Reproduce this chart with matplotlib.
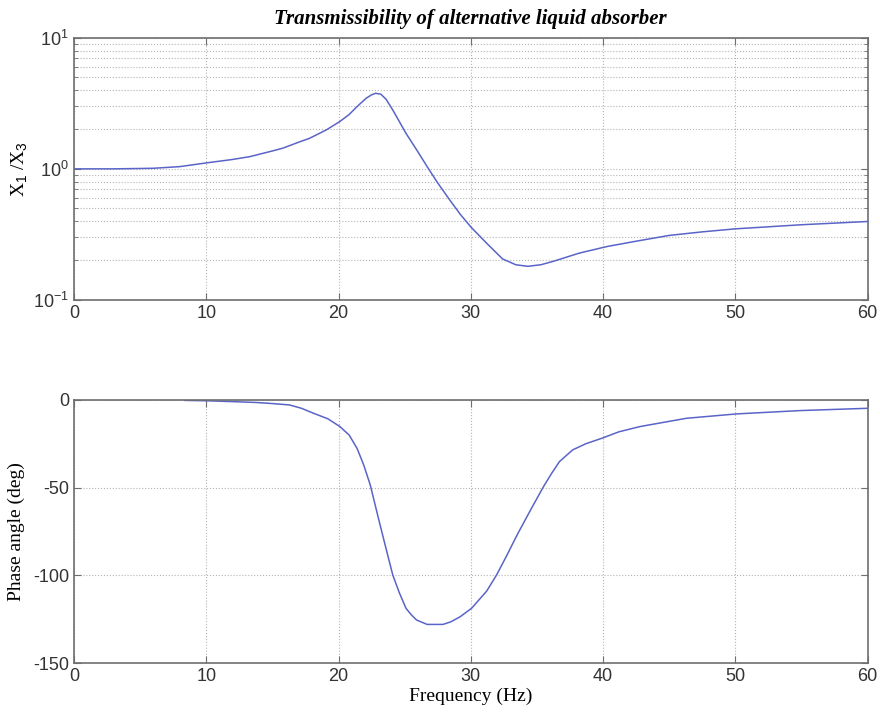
import numpy as np
import matplotlib
matplotlib.use('Agg')
import matplotlib.pyplot as plt
from matplotlib import ticker

# magnitude ratio
freq_mag = [0, 3, 6, 8, 10, 12, 13.3, 15, 15.8, 17, 17.8, 19.1, 20.1, 20.8, 21.4, 22.1,
            22.5, 22.8, 23.2, 23.6, 24.1, 25.1, 26, 26.7, 27.5, 28.4, 29.2, 30, 31.2,
            32.4, 33.4, 34.3, 35.3, 36.2, 38.2, 40.3, 42.5, 45, 47.5, 50, 55, 60]
mag = [1.0, 1.0, 1.01, 1.04, 1.11, 1.18, 1.24, 1.37, 1.44, 1.6, 1.71, 1.99, 2.3, 2.6,
       2.99, 3.47, 3.68, 3.78, 3.72, 3.4, 2.82, 1.87, 1.35, 1.04, 0.78, 0.58, 0.45, 0.36,
       0.27, 0.205, 0.185, 0.18, 0.185, 0.196, 0.227, 0.255, 0.28, 0.31, 0.33, 0.348,
       0.374, 0.396]

# phase angle (deg)
freq_ph = [8.4, 10, 12, 13.8, 15, 16.3, 17.2, 18.1, 19.2, 20.1, 20.8, 21.4, 21.9, 22.4,
           23.1, 23.4, 24.1, 24.6, 25.1, 25.5, 25.9, 26.7, 27.9, 28.5, 29.2, 30.06, 31.2,
           31.95, 32.7, 33.5, 34.5, 35.5, 36.1, 36.7, 37.7, 38.7, 39.9, 41.2, 42.8, 46.3,
           50.1, 54.9, 60]
phase = [-0.3, -0.5, -1.0, -1.5, -2.1, -2.9, -4.8, -7.6, -10.8, -15.2, -20, -27.6, -37,
         -48.5, -70, -79, -99.8, -110, -118.8, -122.5, -125.5, -128, -128, -126.5,
         -123.6, -118.8, -109, -99.8, -89, -77, -63, -49.4, -42, -35.2, -28.5, -25,
         -21.9, -18.2, -15.2, -10.5, -8.0, -6.1, -4.8]

line_col = '#5a64c8'
frame_col = '#6e6e6e'
grid_kw = dict(color='#b4b4b4', linestyle=':', linewidth=0.8)
serif = ['Liberation Serif', 'DejaVu Serif']

plt.rcParams['font.family'] = ['Liberation Sans', 'DejaVu Sans']
plt.rcParams['mathtext.fontset'] = 'custom'
plt.rcParams['mathtext.rm'] = 'Liberation Sans'
plt.rcParams['axes.unicode_minus'] = False

fig = plt.figure(figsize=(8.8, 7.17), dpi=100)
ax1 = fig.add_axes([0.084, 0.582, 0.902, 0.365])
ax2 = fig.add_axes([0.084, 0.0753, 0.902, 0.367])

ax1.semilogy(freq_mag, mag, color=line_col, linewidth=1.1)
ax1.set_xlim(0, 60)
ax1.set_ylim(0.1, 10)
ax1.xaxis.set_major_locator(ticker.MultipleLocator(10))
ax1.yaxis.set_major_locator(ticker.LogLocator(base=10, numticks=5))
ax1.yaxis.set_minor_locator(ticker.LogLocator(base=10, subs=np.arange(2, 10), numticks=20))
ax1.yaxis.set_minor_formatter(ticker.NullFormatter())
ax1.grid(True, which='major', axis='both', **grid_kw)
ax1.grid(True, which='minor', axis='y', **grid_kw)
ax1.set_ylabel('X$_1$ /X$_3$', family=serif, fontsize=14, labelpad=2)
ax1.set_title('Transmissibility of alternative liquid absorber', family=serif,
              style='italic', fontweight='bold', fontsize=15, pad=10)

ax2.plot(freq_ph, phase, color=line_col, linewidth=1.1)
ax2.set_xlim(0, 60)
ax2.set_ylim(-150, 0)
ax2.xaxis.set_major_locator(ticker.MultipleLocator(10))
ax2.yaxis.set_major_locator(ticker.MultipleLocator(50))
ax2.grid(True, which='major', **grid_kw)
ax2.set_ylabel('Phase angle (deg)', family=serif, fontsize=14, labelpad=6)
ax2.set_xlabel('Frequency (Hz)', family=serif, fontsize=14, labelpad=2)

for ax in (ax1, ax2):
    ax.tick_params(which='both', direction='in', top=True, right=True,
                   color=frame_col, labelsize=13, labelcolor='#333333')
    ax.tick_params(which='major', length=5)
    ax.tick_params(which='minor', length=3)
    for sp in ax.spines.values():
        sp.set_color(frame_col)
        sp.set_linewidth(1.2)

fig.savefig('out.png', dpi=100)
